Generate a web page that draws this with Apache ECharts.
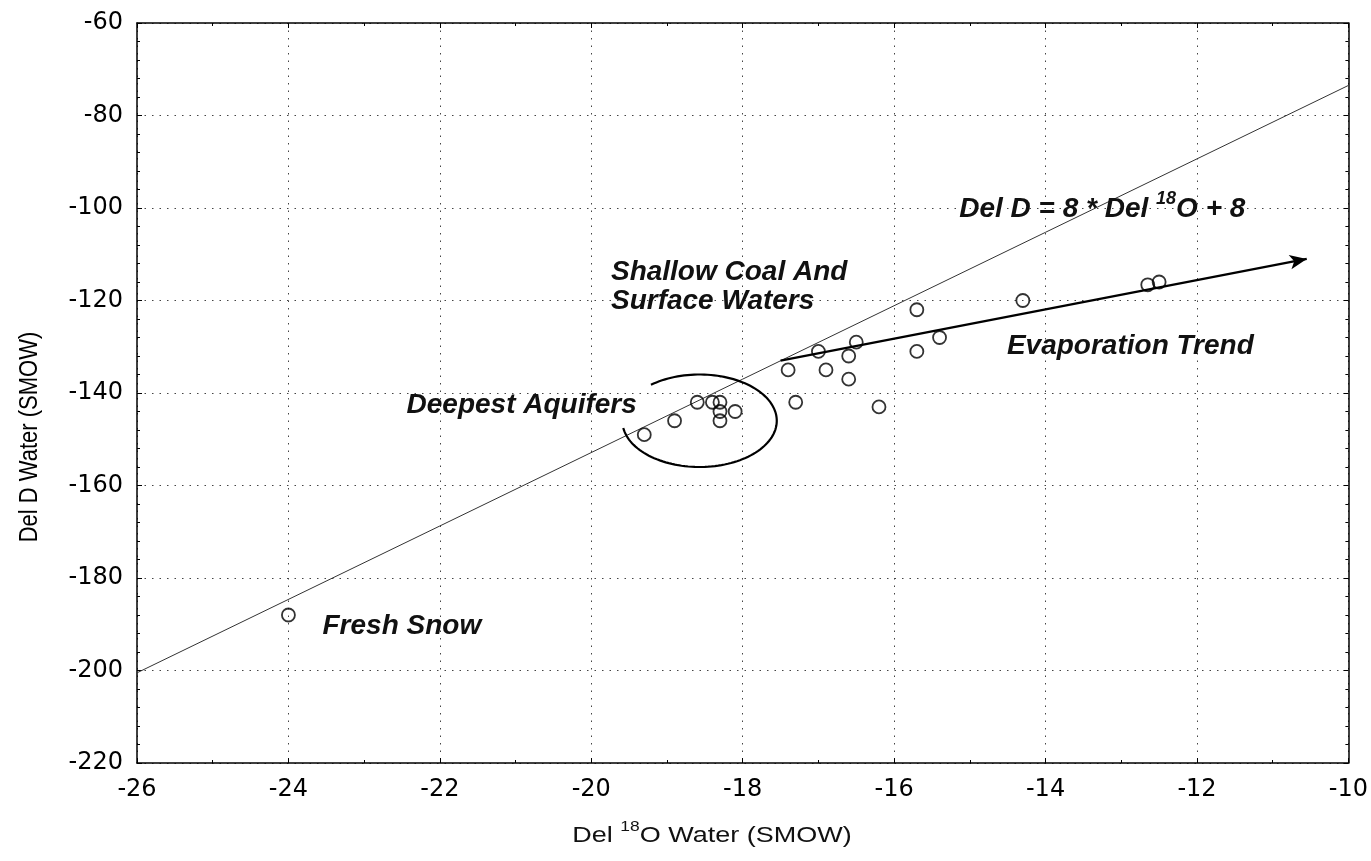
<!DOCTYPE html>
<html>
<head>
<meta charset="utf-8">
<script src="https://cdn.jsdelivr.net/npm/echarts@6/dist/echarts.min.js"></script>
<style>
html,body{margin:0;padding:0;background:#fff;}
#chart{width:1371px;height:861px;}
</style>
</head>
<body>
<div id="chart"></div>
<script>
// ---------- data ----------
const xMin = -26, xMax = -10, xInterval = 2;
const yMin = -220, yMax = -60, yInterval = 20;

const freshSnow = [[-24.0, -188]];
const deepestAquifers = [
  [-19.3, -149], [-18.9, -146], [-18.6, -142], [-18.4, -142],
  [-18.3, -142], [-18.3, -144], [-18.3, -146], [-18.1, -144]
];
const shallowWaters = [
  [-17.4, -135], [-17.3, -142], [-17.0, -131], [-16.9, -135],
  [-16.6, -132], [-16.5, -129], [-16.6, -137], [-16.2, -143],
  [-15.7, -122], [-15.7, -131], [-15.4, -128], [-14.3, -120],
  [-12.65, -116.6], [-12.5, -116]
];
const meteoricWaterLine = [[-26, -200.5], [-10, -73.5]];
const evaporationTrend = [[-17.5, -133], [-10.55, -111]];
// ellipse around deepest aquifers: centre, radii (data units), open arc
const aquiferEllipse = { cx: -18.57, cy: -146, rx: 1.02, ry: 10 };

const FONT = '"Liberation Sans", Arial, sans-serif';
const LABEL_FONT = '"DejaVu Sans", sans-serif';

const chart = echarts.init(document.getElementById('chart'), null, { renderer: 'canvas' });

const baseAxis = {
  axisLine: { show: true, onZero: false, lineStyle: { color: '#000', width: 1.5 } },
  axisTick: { show: true, inside: true, length: 5, lineStyle: { color: '#000', width: 1 } },
  minorTick: { show: true, length: 3, lineStyle: { color: '#000', width: 1 } },
};

const circleStyle = {
  type: 'scatter',
  symbol: 'circle',
  symbolSize: 13,
  itemStyle: { color: 'rgba(0,0,0,0)', borderColor: '#000', borderWidth: 1.8 },
  silent: true,
  z: 5
};

chart.setOption({
  animation: false,
  backgroundColor: '#fff',
  grid: { left: 137, right: 22, top: 23, bottom: 98, containLabel: false },
  xAxis: [
    Object.assign({}, baseAxis, {
      type: 'value', position: 'bottom', min: xMin, max: xMax, interval: xInterval,
      minorTick: Object.assign({}, baseAxis.minorTick, { splitNumber: 2 }),
      axisLabel: { color: '#000', fontSize: 24, fontFamily: LABEL_FONT, margin: 15 },
      splitLine: { show: true, lineStyle: { color: '#444', width: 1, type: [1.5, 6] } }
    }),
    Object.assign({}, baseAxis, {
      type: 'value', position: 'top', min: xMin, max: xMax, interval: xInterval,
      minorTick: Object.assign({}, baseAxis.minorTick, { splitNumber: 2 }),
      axisLabel: { show: false }, splitLine: { show: false }
    })
  ],
  yAxis: [
    Object.assign({}, baseAxis, {
      type: 'value', position: 'left', min: yMin, max: yMax, interval: yInterval,
      minorTick: Object.assign({}, baseAxis.minorTick, { splitNumber: 5 }),
      axisLabel: { color: '#000', fontSize: 24, fontFamily: LABEL_FONT, margin: 14 },
      splitLine: { show: true, lineStyle: { color: '#444', width: 1, type: [1.5, 6] } }
    }),
    Object.assign({}, baseAxis, {
      type: 'value', position: 'right', min: yMin, max: yMax, interval: yInterval,
      minorTick: Object.assign({}, baseAxis.minorTick, { splitNumber: 5 }),
      axisLabel: { show: false }, splitLine: { show: false }
    })
  ],
  series: [
    {
      type: 'line', name: 'Meteoric water line', data: meteoricWaterLine,
      symbol: 'none', silent: true, z: 3,
      lineStyle: { color: '#333', width: 1 },
      markLine: {
        silent: true, animation: false, symbol: ['none', 'arrow'],
        label: { show: false },
        lineStyle: { color: '#000', width: 2.2, type: 'solid' },
        data: [[
          { coord: evaporationTrend[0], symbol: 'none' },
          { coord: evaporationTrend[1], symbol: 'arrow', symbolSize: [11, 17] }
        ]]
      }
    },
    Object.assign({ name: 'Fresh Snow', data: freshSnow }, circleStyle),
    Object.assign({ name: 'Deepest Aquifers', data: deepestAquifers }, circleStyle),
    Object.assign({ name: 'Shallow Coal And Surface Waters', data: shallowWaters }, circleStyle)
  ]
});

// ---------- annotations ----------
const measureCtx = document.createElement('canvas').getContext('2d');
function textWidth(str, font) { measureCtx.font = font; return measureCtx.measureText(str).width; }
function toPx(p) { return chart.convertToPixel({ xAxisIndex: 0, yAxisIndex: 0 }, p); }

const annFont = 'italic bold 28px ' + FONT;
const supFont = 'italic bold 18px ' + FONT;

const graphics = [];
function addText(x, y, str, font, sx) {
  graphics.push({
    type: 'text', x: x, y: y, scaleX: sx || 1, silent: true, z: 10,
    style: { text: str, font: font, fill: '#111', align: 'left', verticalAlign: 'middle' }
  });
}
// text with a superscript: parts = [before, sup, after]
function addSupText(x, y, parts, font, sFont, raise, sx) {
  sx = sx || 1;
  let cx = x;
  addText(cx, y, parts[0], font, sx); cx += textWidth(parts[0], font) * sx;
  addText(cx, y - raise, parts[1], sFont, sx); cx += textWidth(parts[1], sFont) * sx;
  addText(cx, y, parts[2], font, sx);
}

const annotations = [
  { text: 'Fresh Snow', at: [-23.55, -190.4] },
  { text: 'Deepest Aquifers', at: [-22.44, -142.6] },
  { text: 'Shallow Coal And', at: [-19.74, -113.8] },
  { text: 'Surface Waters', at: [-19.74, -120.1] },
  { text: 'Evaporation Trend', at: [-14.51, -129.8] }
];
annotations.forEach(a => { const p = toPx(a.at); addText(p[0], p[1], a.text, annFont); });

const eq = toPx([-15.14, -100.3]);
addSupText(eq[0], eq[1], ['Del D = 8 * Del ', '18', 'O + 8'], annFont, supFont, 10);

// x axis title with superscript (slightly widened like the scanned original)
const titleFont = '22.5px ' + FONT, titleSup = '14.5px ' + FONT, tScale = 1.2;
const tParts = ['Del ', '18', 'O Water (SMOW)'];
const tW = (textWidth(tParts[0], titleFont) + textWidth(tParts[1], titleSup) + textWidth(tParts[2], titleFont)) * tScale;
addSupText(712 - tW / 2, 836, tParts, titleFont, titleSup, 9, tScale);

// y axis title (rotated)
graphics.push({
  type: 'text', x: 30, y: 437, rotation: Math.PI / 2, scaleY: 1.15, silent: true, z: 10,
  style: { text: 'Del D Water (SMOW)', font: '22px ' + FONT, fill: '#000', align: 'center', verticalAlign: 'middle' }
});

// open ellipse around the deepest aquifers
const c = toPx([aquiferEllipse.cx, aquiferEllipse.cy]);
const e1 = toPx([aquiferEllipse.cx + aquiferEllipse.rx, aquiferEllipse.cy + aquiferEllipse.ry]);
const rxPx = Math.abs(e1[0] - c[0]), ryPx = Math.abs(e1[1] - c[1]);
const pts = [];
const a0 = 231 * Math.PI / 180, a1 = 531 * Math.PI / 180;
for (let i = 0; i <= 120; i++) {
  const t = a0 + (a1 - a0) * i / 120;
  pts.push([c[0] + rxPx * Math.cos(t), c[1] + ryPx * Math.sin(t)]);
}
graphics.push({
  type: 'polyline', silent: true, z: 9,
  shape: { points: pts, smooth: false },
  style: { stroke: '#000', lineWidth: 2.2, fill: null }
});

chart.setOption({ graphic: graphics });
</script>
</body>
</html>
